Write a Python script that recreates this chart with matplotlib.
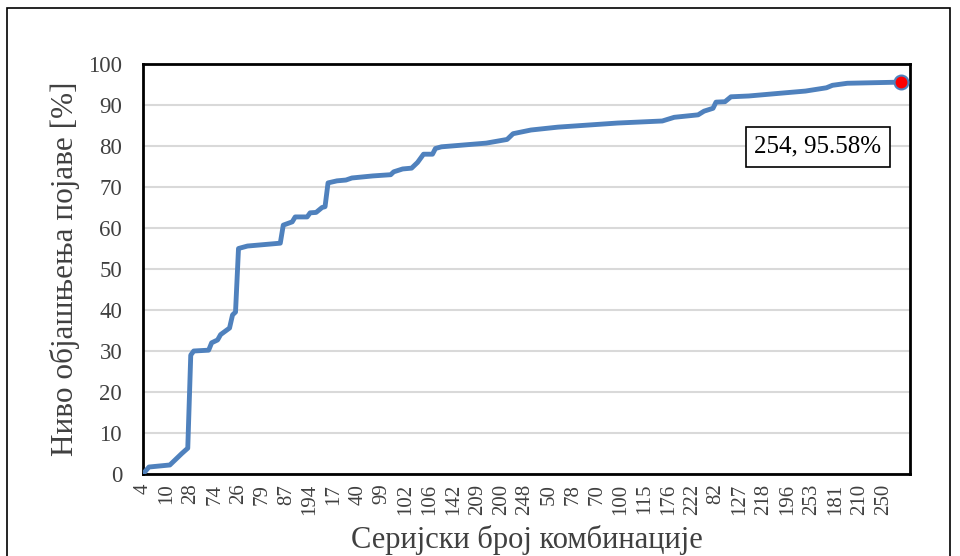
import matplotlib
matplotlib.use('Agg')
import matplotlib.pyplot as plt
from matplotlib.patches import Rectangle

plt.rcParams['font.family'] = ['Liberation Serif', 'DejaVu Serif']

# category index of each line vertex (0..254) and explained level [%]
point_idx = [0, 2, 9, 13, 15, 16, 17, 22, 23, 25, 26, 29, 30, 31, 32, 35, 46, 47,
             50, 51, 55, 56, 58, 60, 61, 62, 65, 68, 70, 77, 83, 84, 87, 90, 92,
             94, 97, 98, 100, 115, 122, 124, 130, 139, 159, 174, 178, 186, 188,
             191, 192, 195, 197, 203, 214, 222, 229, 231, 236, 254]
level = [0.0, 1.7, 2.2, 5.0, 6.3, 29.0, 30.0, 30.2, 32.0, 32.7, 34.0, 35.6,
         38.8, 39.5, 55.0, 55.6, 56.3, 60.7, 61.5, 62.7, 62.7, 63.7, 63.8, 65.0,
         65.2, 71.0, 71.5, 71.7, 72.2, 72.7, 73.0, 73.7, 74.4, 74.6, 76.0, 78.0,
         78.0, 79.4, 79.8, 80.7, 81.6, 83.0, 83.9, 84.6, 85.6, 86.1, 87.0, 87.6,
         88.5, 89.2, 90.7, 90.8, 92.0, 92.2, 92.9, 93.4, 94.2, 94.8, 95.3, 95.58]

# every 8th category name is shown on the axis
tick_labels = ['4', '10', '28', '74', '26', '79', '87', '194', '17', '40', '99',
               '102', '106', '142', '209', '200', '248', '50', '78', '70', '100',
               '115', '176', '222', '82', '127', '218', '196', '253', '181',
               '210', '250']
last_name = '254'

fig = plt.figure(figsize=(9.6, 5.56), dpi=100)
ax = fig.add_axes([143 / 960, 1 - 474 / 556, (910 - 143) / 960, (474 - 64) / 556])

ax.plot(point_idx, level, color='#4F81BD', lw=3.5, solid_joinstyle='round',
        solid_capstyle='round', zorder=3)
ax.plot(point_idx[-1], level[-1], 'o', ms=10, mfc='red', mec='#4F81BD', mew=1.5,
        zorder=4, clip_on=False)

ax.set_xlim(0, 257)
ax.set_ylim(0, 100)
ax.set_yticks(range(0, 101, 10))
ax.set_xticks(range(0, 8 * len(tick_labels), 8))
ax.set_xticklabels(tick_labels, rotation=90, fontsize=15, color='#404040')
ax.tick_params(axis='y', labelsize=16.5, labelcolor='#404040', length=0, pad=15)
ax.tick_params(axis='x', length=0, pad=7)
ax.grid(axis='y', color='#D9D9D9', lw=1.5)
ax.set_axisbelow(True)
for s in ax.spines.values():
    s.set_linewidth(2)
    s.set_color('black')

ax.set_ylabel('Ниво објашњења појаве [%]', fontsize=22.5, color='#404040', labelpad=6)
ax.set_xlabel('Серијски број комбинације', fontsize=22, color='#404040', labelpad=7)

ax.text(0.88, 0.798, f'{last_name}, {level[-1]:.2f}%', transform=ax.transAxes,
        fontsize=18, ha='center', va='center',
        bbox=dict(boxstyle='square,pad=0.35', fc='white', ec='black', lw=1.2))

fig.patches.append(Rectangle((7 / 960, -0.01), 943 / 960, 1 - 8 / 556 + 0.01,
                             transform=fig.transFigure, fill=False, ec='black', lw=1.2))

fig.savefig('out.png', dpi=100)
